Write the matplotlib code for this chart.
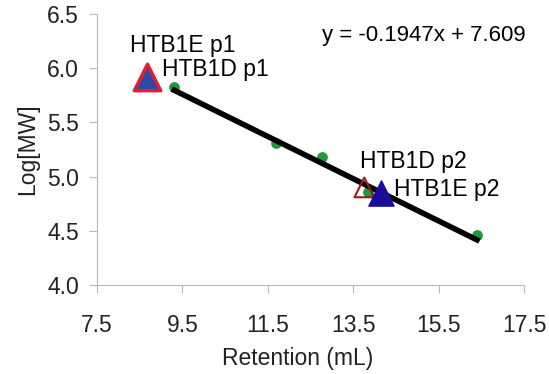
import matplotlib
matplotlib.use("Agg")
import matplotlib.pyplot as plt
import numpy as np

plt.rcParams['font.family'] = ['Liberation Sans', 'DejaVu Sans']

# standards
std_x = [9.31, 11.70, 12.78, 13.84, 16.40]
std_y = [5.83, 5.31, 5.18, 4.86, 4.46]
slope = -0.1947
intercept = 7.609
fit_x = [9.31, 16.40]

# samples
htb1d_x = [8.67, 13.76]
htb1d_y = [5.93, 4.90]
htb1e_x = [8.67, 14.14]
htb1e_y = [5.92, 4.85]

xticks = [7.5, 9.5, 11.5, 13.5, 15.5, 17.5]
yticks = [4.0, 4.5, 5.0, 5.5, 6.0, 6.5]

fig = plt.figure(figsize=(5.49, 3.74), dpi=100)
ax = fig.add_axes([97/549, 1-285/374, (524-97)/549, (285-14)/374])

ax.scatter(std_x, std_y, s=45, color='#1f9a3a', zorder=3)
fx = np.array(fit_x)
ax.plot(fx, slope*fx + intercept, color='black', lw=4, zorder=4)

ax.scatter(htb1e_x[:1], htb1e_y[:1], marker='^', s=360, facecolor='#2b4aa8', edgecolor='#e02030', lw=2.5, zorder=5)
ax.scatter(htb1d_x[1:], htb1d_y[1:], marker='^', s=200, facecolor='none', edgecolor='#a01818', lw=1.5, zorder=5)
ax.scatter(htb1e_x[1:], htb1e_y[1:], marker='^', s=330, facecolor='#1a0d9a', edgecolor='#1a0d9a', lw=1, zorder=5)

fs = 16.5
ax.text(8.27, 6.21, 'HTB1E p1', fontsize=fs, ha='left', va='center')
ax.text(9.03, 5.99, 'HTB1D p1', fontsize=fs, ha='left', va='center')
ax.text(13.67, 5.14, 'HTB1D p2', fontsize=fs, ha='left', va='center')
ax.text(14.45, 4.88, 'HTB1E p2', fontsize=fs, ha='left', va='center')
ax.text(12.78, 6.30, 'y = -0.1947x + 7.609', fontsize=16, ha='left', va='center')

ax.set_xlim(7.5, 17.5)
ax.set_ylim(4.0, 6.5)
ax.set_xticks(xticks)
ax.set_yticks(yticks)
ax.set_xticklabels([f'{v:.1f}' for v in xticks], fontsize=fs)
ax.set_yticklabels([f'{v:.1f}' for v in yticks], fontsize=fs)
for s in ['top', 'right']:
    ax.spines[s].set_visible(False)
for s in ['left', 'bottom']:
    ax.spines[s].set_color('#b8b8b8')
ax.tick_params(colors='#b8b8b8', labelcolor='#222222', length=5.8, direction='out')
ax.tick_params(axis='x', pad=15)
ax.tick_params(axis='y', pad=7)
ax.set_xlabel('Retention (mL)', fontsize=fs, color='#222222')
ax.xaxis.set_label_coords(0.47, -0.23)
ax.set_ylabel('Log[MW]', fontsize=fs, color='#222222', labelpad=6)

fig.savefig('out.png', dpi=100)
